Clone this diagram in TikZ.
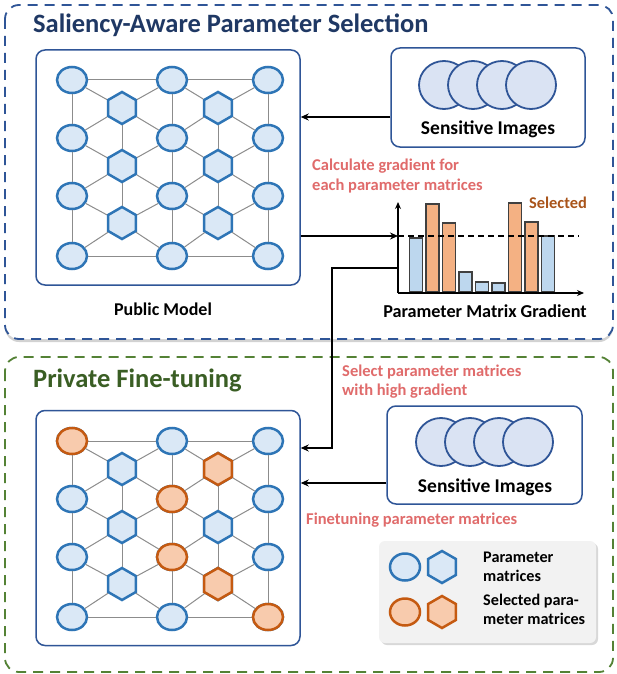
\documentclass[tikz,border=0pt]{standalone}
\usepackage{fontspec}
\setmainfont{Carlito}
\usetikzlibrary{shapes.geometric,arrows.meta,shadows}
\definecolor{navy}{HTML}{1F3864}
\definecolor{darkgreen}{HTML}{3A5E24}
\definecolor{dashblue}{HTML}{2F5597}
\definecolor{dashgreen}{HTML}{548235}
\definecolor{boxblue}{HTML}{2F5597}
\definecolor{nodeblue}{HTML}{2E75B6}
\definecolor{nodefill}{HTML}{DAE8F6}
\definecolor{selorange}{HTML}{C55A11}
\definecolor{selfill}{HTML}{F8CBAD}
\definecolor{imgfill}{HTML}{DAE3F3}
\definecolor{edgegray}{HTML}{8C8C8C}
\definecolor{redtext}{HTML}{E06B6B}
\definecolor{brown}{HTML}{A9541A}
\definecolor{barblue}{HTML}{BDD7EE}
\definecolor{barorange}{HTML}{F4B183}
\definecolor{bargray}{HTML}{404040}
\definecolor{legfill}{HTML}{F2F2F2}

\newcommand\netnodes[2]{%
  \foreach \i/\x in {1/72,2/172,3/268}{
    \foreach \j/\dy in {1/30,2/88,3/146,4/206}{
      \node[pc] (#1c\i\j) at (\x,#2+\dy) {};
    }
  }
  \foreach \k/\x in {1/122,2/218}{
    \foreach \j/\dy in {1/58,2/116,3/173}{
      \node[ph] (#1h\k\j) at (\x,#2+\dy) {};
    }
  }
}
\newcommand\netedges[1]{%
  \draw[edge] (#1c11)--(#1c21) (#1c21)--(#1c31) (#1c14)--(#1c24) (#1c24)--(#1c34);
  \foreach \i in {1,2,3}{
    \foreach \j [evaluate=\j as \jn using int(\j+1)] in {1,2,3}{
      \draw[edge] (#1c\i\j)--(#1c\i\jn);
    }
  }
  \foreach \k [evaluate=\k as \kn using int(\k+1)] in {1,2}{
    \draw[edge] (#1h\k1)--(#1h\k2) (#1h\k2)--(#1h\k3);
    \foreach \j [evaluate=\j as \jn using int(\j+1)] in {1,2,3}{
      \draw[edge] (#1h\k\j)--(#1c\k\j) (#1h\k\j)--(#1c\kn\j)
                  (#1h\k\j)--(#1c\k\jn) (#1h\k\j)--(#1c\kn\jn);
    }
  }
}

\begin{document}
\begin{tikzpicture}[x=1pt,y=-1pt,
  pc/.style={ellipse, draw=nodeblue, fill=nodefill, line width=2.5pt,
    minimum width=30pt, minimum height=26pt, inner sep=0pt},
  ph/.style={regular polygon, regular polygon sides=6, shape border rotate=90,
    draw=nodeblue, fill=nodefill, line width=2.5pt, minimum size=32pt, inner sep=0pt},
  sc/.style={pc, draw=selorange, fill=selfill},
  sh/.style={ph, draw=selorange, fill=selfill},
  edge/.style={draw=edgegray, line width=1pt},
  stage/.style={rounded corners=14pt, line width=1.8pt, dash pattern=on 10pt off 7pt, fill=white},
  modelbox/.style={draw=boxblue, line width=1.5pt, rounded corners=9pt, fill=white,
    minimum width=264pt, minimum height=235pt, inner sep=0pt},
  imgbox/.style={draw=boxblue, line width=1.5pt, rounded corners=9pt, fill=white, inner sep=0pt},
  img/.style={ellipse, draw=boxblue, fill=imgfill, line width=1.8pt,
    minimum width=50pt, minimum height=48pt, inner sep=0pt},
  arr/.style={line width=1.8pt, -{Stealth[length=8pt,width=7pt]}},
  title/.style={font=\fontsize{26.5}{30}\selectfont\bfseries, anchor=base west, inner sep=0pt},
  lbl/.style={font=\fontsize{19.5}{23}\selectfont\bfseries, anchor=base, inner sep=0pt},
  red/.style={font=\fontsize{16.5}{19}\selectfont\bfseries, text=redtext, anchor=base west, inner sep=0pt},
  leg/.style={font=\fontsize{16.2}{19}\selectfont\bfseries, anchor=base west, inner sep=0pt},
  bar/.style={draw=bargray, line width=1.2pt},
]
\fill[white] (0,0) rectangle (616,674);
\useasboundingbox (0,0) rectangle (616,674);

% stage frames
\draw[stage, draw=dashblue, drop shadow={opacity=0.35, shadow xshift=0pt, shadow yshift=-3pt}]
  (5,5) rectangle (613,339);
\draw[stage, draw=dashgreen] (5,357) rectangle (613,672);

\node[title, text=navy] (t1) at (33,33) {Saliency-Aware Parameter Selection};
\node[title, text=darkgreen] (t2) at (33,387) {Private Fine-tuning};

% models
\node[modelbox] (pm) at (168,167.5) {};
\node[modelbox] (fm) at (168,528) {};

\netnodes{t}{50}
\netedges{t}
\netnodes{b}{411}
\netedges{b}
\node[sc] at (bc11) {};
\node[sh] at (bh21) {};
\node[sc] at (bc22) {};
\node[sc] at (bc23) {};
\node[sh] at (bh23) {};
\node[sc] at (bc34) {};

\node[lbl, font=\fontsize{18}{21}\selectfont\bfseries] (pml) at (163,315) {Public Model};

% sensitive images (top)
\node[imgbox, minimum width=194pt, minimum height=99pt] (si1) at (488,97.5) {};
\foreach \x [count=\n] in {444,473,502,531}{
  \node[img] (ia\n) at (\x,85) {};
}
\node[lbl] (si1l) at (488,135) {Sensitive Images};

% sensitive images (bottom)
\node[imgbox, minimum width=195pt, minimum height=98pt] (si2) at (484.5,455) {};
\foreach \x [count=\n] in {441,470,499,528}{
  \node[img] (ib\n) at (\x,442) {};
}
\node[lbl] (si2l) at (485,492) {Sensitive Images};

% texts
\node[red] (c1) at (312,170) {Calculate gradient for};
\node[red] (c2) at (312,190) {each parameter matrices};
\node[red] (s1) at (342,376) {Select parameter matrices};
\node[red] (s2) at (342,395) {with high gradient};
\node[red] (f1) at (306,524) {Finetuning parameter matrices};

% bar chart
\coordinate (o) at (398,293);
\coordinate (ytop) at (398,202);
\coordinate (xend) at (584,293);
\foreach \x/\t/\c in {409.5/238/barblue, 426/204/barorange, 442.5/223/barorange,
   459/272/barblue, 475.5/282/barblue, 492/283/barblue,
   508.5/203/barorange, 525/222/barorange, 541.5/236/barblue}{
  \draw[bar, fill=\c] (\x,292) rectangle (\x+13,\t);
}
\draw[line width=1.6pt, -{Stealth[length=7pt,width=6pt]}] (o) -- (ytop);
\draw[line width=1.6pt, -{Stealth[length=7pt,width=6pt]}] (o) -- (xend);
\coordinate (dl) at (398,236);
\coordinate (dr) at (579,236);
\draw[line width=1.3pt, dash pattern=on 6pt off 4pt] (dl) -- (dr);
\node[font=\fontsize{16.4}{19}\selectfont\bfseries, text=brown, anchor=base, inner sep=0pt] (sel) at (558,208) {Selected};
\node[font=\fontsize{18.2}{21}\selectfont\bfseries, anchor=base, inner sep=0pt] (pmg) at (485,317) {Parameter Matrix Gradient};

% connectors
\draw[arr] (si1.west |- 0,117) -- (pm.east |- 0,117);
\draw[arr] (pm.east |- dl) -- (dl);
\coordinate (ya) at (398,268);
\coordinate (bend1) at (332,268);
\coordinate (bend2) at (332,448);
\draw[arr] (ya) -- (bend1) -- (bend2) -- (fm.east |- bend2);
\draw[arr] (si2.west |- 0,483) -- (fm.east |- 0,483);

% legend
\node[fill=legfill, rounded corners=6pt, minimum width=217pt, minimum height=102pt,
  drop shadow={opacity=0.3, shadow xshift=2pt, shadow yshift=-2pt}] (lg) at (487.5,592) {};
\node[pc, minimum width=30pt, minimum height=27pt] (l1) at (405,567) {};
\node[ph] (l2) at (442,567) {};
\node[sc, minimum width=30pt, minimum height=27pt] (l3) at (405,612) {};
\node[sh] (l4) at (442,612) {};
\node[leg] (lt1) at (483,562) {Parameter};
\node[leg] (lt2) at (483,581) {matrices};
\node[leg] (lt3) at (483,605) {Selected para-};
\node[leg] (lt4) at (483,624) {meter matrices};
\end{tikzpicture}
\end{document}
